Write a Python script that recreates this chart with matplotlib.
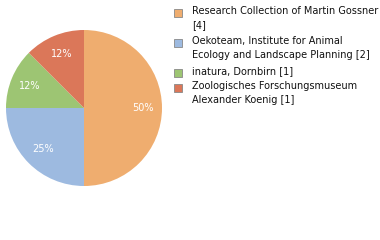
import matplotlib
matplotlib.use('Agg')
import matplotlib.pyplot as plt
from matplotlib.patches import Rectangle

labels = ['Research Collection of Martin Gossner\n[4]',
          'Oekoteam, Institute for Animal\nEcology and Landscape Planning [2]',
          'inatura, Dornbirn [1]',
          'Zoologisches Forschungsmuseum\nAlexander Koenig [1]']
counts = [4, 2, 1, 1]
colors = ['#EFAD6F', '#9DBAE0', '#9DC573', '#DB7759']

fig = plt.figure(figsize=(3.8, 2.4), dpi=100)
ax = fig.add_axes([6 / 380, 1 - 186 / 240, 156 / 380, 156 / 240])

wedges, texts, autotexts = ax.pie(
    counts, colors=colors, startangle=90, counterclock=False,
    autopct=lambda p: '%d%%' % int(p), pctdistance=0.75,
    wedgeprops=dict(linewidth=0),
    textprops=dict(color='white', fontsize=7))
ax.set_xlim(-1, 1)
ax.set_ylim(-1, 1)
ax.set_aspect('equal')

# legend drawn by hand
y_rows = [12, 42, 72, 87]
for lab, col, y in zip(labels, colors, y_rows):
    fig.patches.append(Rectangle((174 / 380, 1 - (y + 5) / 240), 8 / 380, 8 / 240,
                                 facecolor=col, edgecolor='#888888', linewidth=0.6,
                                 transform=fig.transFigure, figure=fig))
    fig.text(192 / 380, 1 - (y - 6) / 240, lab, fontsize=7, va='top', ha='left',
             color='#111111', linespacing=1.55)

fig.savefig('out.png', dpi=100)
